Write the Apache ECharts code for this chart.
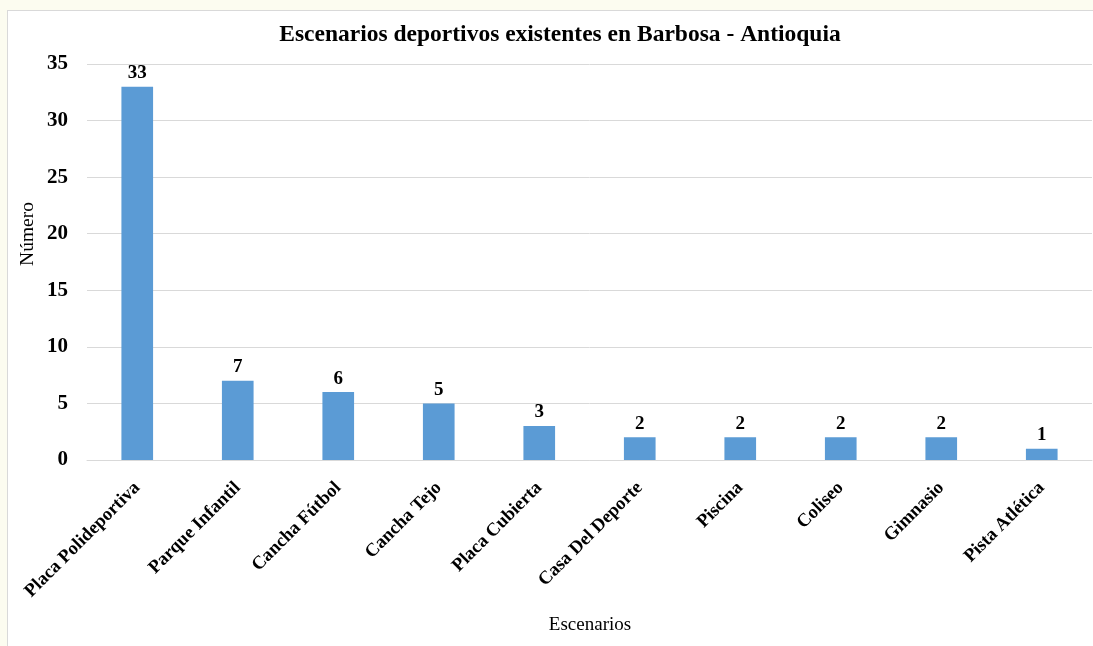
<!DOCTYPE html>
<html>
<head>
<meta charset="utf-8">
<script src="https://cdn.jsdelivr.net/npm/echarts@6/dist/echarts.min.js"></script>
<style>
html,body{margin:0;padding:0;background:#fcfcf0;}
#frame{position:absolute;left:7px;top:10px;width:1090px;height:640px;background:#fff;border:1px solid #d9d9d9;box-sizing:border-box;}
#chart{position:absolute;left:0;top:0;width:1093px;height:646px;}
</style>
</head>
<body>
<div id="frame"></div>
<div id="chart"></div>
<script>
const categories = ["Placa Polideportiva","Parque Infantil","Cancha Fútbol","Cancha Tejo","Placa Cubierta","Casa Del Deporte","Piscina","Coliseo","Gimnasio","Pista Atlética"];
const values = [33,7,6,5,3,2,2,2,2,1];
const yTicks = [0,5,10,15,20,25,30,35];
const xName = 'Escenarios';
const yName = 'Número';

const serif = '"Liberation Serif","Times New Roman",serif';
const chart = echarts.init(document.getElementById('chart'), null, {renderer:'canvas'});
chart.setOption({
  backgroundColor: 'transparent',
  animation: false,
  title: {
    text: 'Escenarios deportivos existentes en Barbosa - Antioquia',
    left: 555, top: 18, textAlign: 'center',
    textStyle: {fontFamily: serif, fontWeight: 'bold', fontSize: 23.5, color: '#000'}
  },
  graphic: [
    {type: 'text', silent: true, x: 590, y: 625,
     style: {text: xName, x: 0, y: 0, textAlign: 'center', textVerticalAlign: 'middle', fontFamily: serif, fontSize: 19, fill: '#000'}},
    {type: 'text', silent: true, x: 28, y: 234, rotation: Math.PI/2,
     style: {text: yName, x: 0, y: 0, textAlign: 'center', textVerticalAlign: 'middle', fontFamily: serif, fontSize: 19.5, fill: '#000'}}
  ],
  grid: {left: 87, right: 1, top: 64, bottom: 186, containLabel: false},
  xAxis: {
    type: 'category',
    data: categories,
    axisLine: {lineStyle: {color: '#d9d9d9'}},
    axisTick: {show: false},
    axisLabel: {rotate: 45, margin: 25, interval: 0, fontFamily: serif, fontWeight: 'bold', fontSize: 18.5, color: '#000'}
  },
  yAxis: {
    type: 'value',
    min: yTicks[0], max: yTicks[yTicks.length-1], interval: 5,
    axisLine: {show: false},
    axisTick: {show: false},
    splitLine: {lineStyle: {color: '#d9d9d9'}},
    axisLabel: {margin: 19, fontFamily: serif, fontWeight: 'bold', fontSize: 21, color: '#000'}
  },
  series: [{
    type: 'bar',
    data: values,
    barWidth: '31.5%',
    itemStyle: {color: '#5b9bd5'},
    label: {show: true, position: 'top', distance: 4, fontFamily: serif, fontWeight: 'bold', fontSize: 19, color: '#000'}
  }]
});
</script>
</body>
</html>
